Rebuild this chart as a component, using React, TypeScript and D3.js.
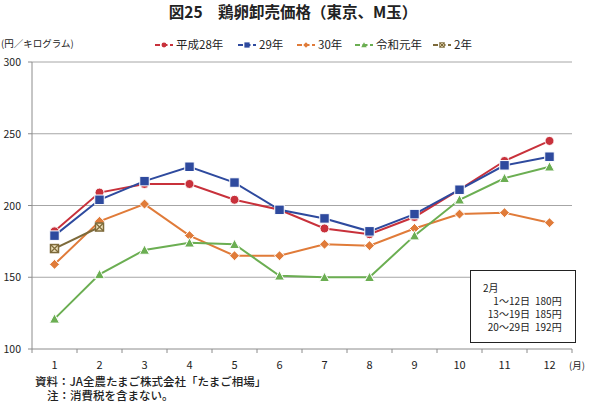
import React from "react";
import * as d3 from "d3";

const months = [1, 2, 3, 4, 5, 6, 7, 8, 9, 10, 11, 12];
const h28 = [182, 209, 215, 215, 204, 197, 184, 180, 192, 211, 231, 245];
const h29 = [179, 204, 217, 227, 216, 197, 191, 182, 194, 211, 228, 234];
const h30 = [159, 189, 201, 179, 165, 165, 173, 172, 184, 194, 195, 188];
const r1 = [121, 152, 169, 174, 173, 151, 150, 150, 179, 204, 219, 227];
const r2 = [170, 185];
const yTicks = [100, 150, 200, 250, 300];
const noteLines = [
  { label: "1～12日", price: "180円" },
  { label: "13～19日", price: "185円" },
  { label: "20～29日", price: "192円" },
];

type Shape = "circle" | "square" | "diamond" | "triangle" | "xbox";

const series: { name: string; values: number[]; color: string; shape: Shape }[] = [
  { name: "平成28年", values: h28, color: "#C8313B", shape: "circle" },
  { name: "29年", values: h29, color: "#2E4A9E", shape: "square" },
  { name: "30年", values: h30, color: "#E07B39", shape: "diamond" },
  { name: "令和元年", values: r1, color: "#6BAE52", shape: "triangle" },
  { name: "2年", values: r2, color: "#7D6A3A", shape: "xbox" },
];

const legendX = [155, 238, 297, 355, 433];

const FONT = "'Noto Sans CJK JP', 'Noto Sans', sans-serif";

function Marker({ shape, color, x, y, small }: { shape: Shape; color: string; x: number; y: number; small?: boolean }) {
  const k = small ? 0.55 : 1;
  const sw = small ? 0 : 1;
  if (shape === "circle") {
    return <circle cx={x} cy={y} r={4.5 * k} fill={color} stroke="#fff" strokeWidth={sw} />;
  }
  if (shape === "square") {
    const s = 9.5 * k;
    return <rect x={x - s / 2} y={y - s / 2} width={s} height={s} fill={color} stroke="#fff" strokeWidth={sw} />;
  }
  if (shape === "diamond") {
    const s = 5 * k;
    return (
      <path d={`M${x},${y - s}L${x + s},${y}L${x},${y + s}L${x - s},${y}Z`} fill={color} stroke="#fff" strokeWidth={sw} />
    );
  }
  if (shape === "triangle") {
    const s = 5 * k;
    return (
      <path
        d={`M${x},${y - s}L${x + s},${y + s * 0.85}L${x - s},${y + s * 0.85}Z`}
        fill={color}
        stroke="#fff"
        strokeWidth={sw}
      />
    );
  }
  const s = 8 * k;
  return (
    <g>
      <rect x={x - s / 2} y={y - s / 2} width={s} height={s} fill="#EFE3BE" stroke={color} strokeWidth={small ? 1 : 1.5} />
      <path
        d={`M${x - s / 2},${y - s / 2}L${x + s / 2},${y + s / 2}M${x + s / 2},${y - s / 2}L${x - s / 2},${y + s / 2}`}
        stroke={color}
        strokeWidth={small ? 1 : 1.3}
      />
    </g>
  );
}

export default function App() {
  const width = 590;
  const height = 404;
  const left = 32;
  const right = 572;
  const top = 62;
  const bottom = 349;

  const x = d3.scaleBand<number>().domain(months).range([left, right]).paddingInner(0).paddingOuter(0);
  const cx = (m: number) => (x(m) ?? 0) + x.bandwidth() / 2;
  const y = d3.scaleLinear().domain([100, 300]).range([bottom, top]);

  const line = d3
    .line<number>()
    .x((_, i) => cx(months[i]))
    .y((d) => y(d));

  const boundaries = months.map((m) => x(m) ?? 0).concat([right]);

  return (
    <div style={{ position: "absolute", left: 0, top: 0 }}>
      <svg width={width} height={height} style={{ display: "block", background: "#fff", fontFamily: FONT }}>
        {/* title */}
        <text x={293} y={18} textAnchor="middle" fontSize={15.5} fontWeight="bold" fill="#222">
          図25　鶏卵卸売価格（東京、M玉）
        </text>

        {/* unit */}
        <text x={1} y={47} fontSize={9.5} fill="#222">
          (円／キログラム)
        </text>

        {/* legend */}
        {series.map((s, i) => (
          <g key={s.name}>
            <line
              x1={legendX[i]}
              x2={legendX[i] + 18}
              y1={45}
              y2={45}
              stroke={s.color}
              strokeWidth={2}
              strokeDasharray="5,2.5"
            />
            <Marker shape={s.shape} color={s.color} x={legendX[i] + 9} y={45} small />
            <text x={legendX[i] + 21} y={49} fontSize={11.5} fill="#222">
              {s.name}
            </text>
          </g>
        ))}

        {/* grid */}
        {yTicks.map((t) => (
          <g key={t}>
            {t > 100 && <line x1={left} x2={right} y1={y(t)} y2={y(t)} stroke="#A6A6A6" strokeWidth={1} />}
            <line x1={left - 4} x2={left} y1={y(t)} y2={y(t)} stroke="#8C8C8C" strokeWidth={1} />
            <text x={21} y={y(t) + 4} textAnchor="end" fontSize={10.5} fill="#222">
              {t}
            </text>
          </g>
        ))}

        {/* axes */}
        <line x1={left} x2={left} y1={top} y2={bottom} stroke="#8C8C8C" strokeWidth={1} />
        <line x1={left} x2={right} y1={bottom} y2={bottom} stroke="#8C8C8C" strokeWidth={1} />
        {boundaries.map((b, i) => (
          <line key={i} x1={b} x2={b} y1={bottom} y2={bottom + 4} stroke="#8C8C8C" strokeWidth={1} />
        ))}
        {months.map((m) => (
          <text key={m} x={cx(m)} y={369} textAnchor="middle" fontSize={11} fill="#222">
            {m}
          </text>
        ))}
        <text x={569} y={369} fontSize={9.5} fill="#222">
          (月)
        </text>

        {/* series */}
        {series.map((s) => (
          <g key={s.name}>
            <path d={line(s.values) ?? ""} fill="none" stroke={s.color} strokeWidth={2} />
            {s.values.map((v, i) => (
              <Marker key={i} shape={s.shape} color={s.color} x={cx(months[i])} y={y(v)} />
            ))}
          </g>
        ))}

        {/* note box */}
        <rect x={470.5} y={270.5} width={105} height={72} fill="#fff" stroke="#222" strokeWidth={1} />
        <text fontSize={10} fill="#222">
          <tspan x={483} y={292}>
            2月
          </tspan>
          {noteLines.map((n, i) => (
            <React.Fragment key={n.label}>
              <tspan x={530} y={305 + i * 13} textAnchor="end">
                {n.label}
              </tspan>
              <tspan x={535} y={305 + i * 13}>
                {n.price}
              </tspan>
            </React.Fragment>
          ))}
        </text>

        {/* source */}
        <text x={35} y={386} fontSize={11.5} fill="#222" fontWeight={500}>
          資料：JA全農たまご株式会社「たまご相場」
        </text>
        <text x={47} y={400} fontSize={11.5} fill="#222" fontWeight={500}>
          注：消費税を含まない。
        </text>
      </svg>
    </div>
  );
}
